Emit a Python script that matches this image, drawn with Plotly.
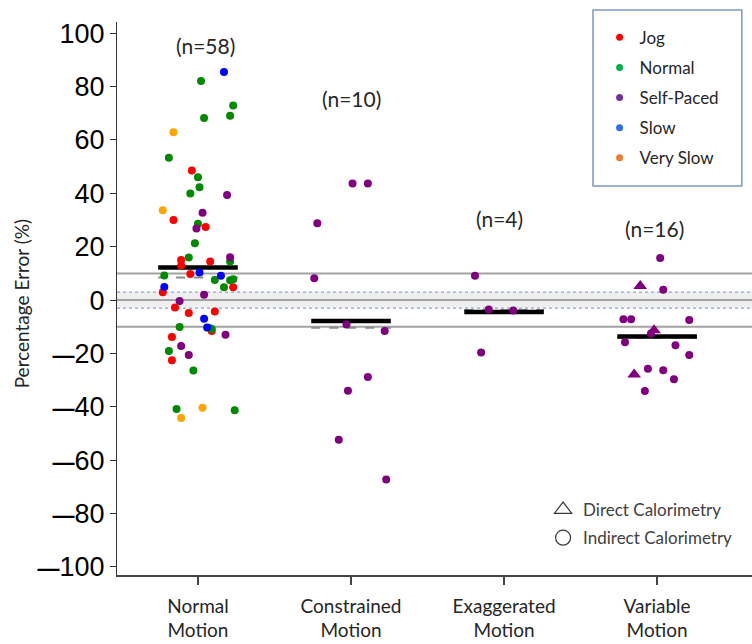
import numpy as np
import plotly.graph_objects as go

# Category labels on the x axis
group_labels = ["Normal<br>Motion", "Constrained<br>Motion", "Exaggerated<br>Motion", "Variable<br>Motion"]

# Normal Motion: percentage error, horizontal jitter, walking pace
normal_vals = [85.5, 82.1, 72.9, 69.1, 68.2, 62.9, 53.3, 48.6, 46.0, 42.3,
               39.9, 39.4, 33.7, 32.7, 30.0, 28.6, 26.8, 27.4, 21.3, 16.0,
               16.1, 14.5, 15.0, 13.0, 14.5, 9.2, 9.8, 10.3, 9.1, 7.5,
               7.4, 7.8, 4.8, 4.8, 4.9, 2.9, 2.0, -0.3, -2.8, -4.8,
               -4.3, -7.0, -10.1, -10.3, -10.8, -11.6, -13.0, -13.8, -17.2, -19.1,
               -20.6, -22.5, -26.4, -40.8, -40.3, -41.3, -44.2, -10.5]
normal_jitter = [0.17, 0.02, 0.23, 0.21, 0.04, -0.16, -0.19, -0.04, 0.0, 0.01,
                 -0.05, 0.19, -0.23, 0.03, -0.16, 0.0, -0.01, 0.05, -0.02, -0.06,
                 0.21, 0.21, -0.11, -0.11, 0.08, -0.22, -0.05, 0.01, 0.15, 0.11,
                 0.21, 0.23, 0.17, 0.23, -0.22, -0.23, 0.04, -0.12, -0.15, -0.06,
                 0.11, 0.04, -0.12, 0.06, 0.09, 0.09, 0.18, -0.17, -0.11, -0.19,
                 -0.06, -0.17, -0.03, -0.14, 0.03, 0.24, -0.11, 0.08]
normal_pace = ["Slow", "Normal", "Normal", "Normal", "Normal", "Very Slow", "Normal", "Jog", "Normal", "Normal",
               "Normal", "Self-Paced", "Very Slow", "Self-Paced", "Jog", "Normal", "Self-Paced", "Jog", "Normal", "Normal",
               "Self-Paced", "Normal", "Jog", "Jog", "Jog", "Normal", "Jog", "Slow", "Slow", "Normal",
               "Normal", "Normal", "Normal", "Jog", "Slow", "Jog", "Self-Paced", "Self-Paced", "Jog", "Jog",
               "Jog", "Slow", "Normal", "Slow", "Normal", "Jog", "Self-Paced", "Jog", "Self-Paced", "Normal",
               "Self-Paced", "Jog", "Normal", "Normal", "Very Slow", "Normal", "Very Slow", "Normal"]

# Constrained Motion (all self-paced, indirect calorimetry)
constrained_vals = [43.7, 43.7, 28.8, 8.2, -9.1, -11.6, -28.8, -34.0, -52.3, -67.2]
constrained_jitter = [0.01, 0.11, -0.22, -0.24, -0.03, 0.22, 0.11, -0.02, -0.08, 0.23]

# Exaggerated Motion (all self-paced, indirect calorimetry)
exaggerated_vals = [9.1, -3.5, -3.9, -19.6]
exaggerated_jitter = [-0.19, -0.10, 0.06, -0.15]

# Variable Motion (self-paced), calorimetry method per point
variable_vals = [15.8, 5.3, 3.9, -7.2, -7.2, -7.5, -11.3, -12.5, -15.8, -16.9,
                 -20.6, -27.9, -25.7, -26.3, -29.7, -34.1]
variable_jitter = [0.02, -0.11, 0.04, -0.22, -0.17, 0.21, -0.02, -0.04, -0.21, 0.12,
                   0.21, -0.15, -0.06, 0.04, 0.11, -0.08]
variable_method = ["Indirect", "Direct", "Indirect", "Indirect", "Indirect", "Indirect", "Direct", "Indirect",
                   "Indirect", "Indirect", "Indirect", "Direct", "Indirect", "Indirect", "Indirect", "Indirect"]

# Placement of the sample-size labels (data units)
n_label_pos = [(1.05, 95.5), (2.0, 75.5), (2.97, 30.5), (3.98, 27.0)]

pace_order = ["Jog", "Normal", "Self-Paced", "Slow", "Very Slow"]
pace_colors = {"Jog": "#ff0000", "Normal": "#008a00", "Self-Paced": "#800080",
               "Slow": "#0000ff", "Very Slow": "#ffa500"}
legend_colors = {"Jog": "#ff0000", "Normal": "#00b050", "Self-Paced": "#7030a0",
                 "Slow": "#2a6ff0", "Very Slow": "#ed7d31"}

# Assemble flat point table
groups = [
    (normal_vals, normal_jitter, normal_pace, ["Indirect"] * len(normal_vals)),
    (constrained_vals, constrained_jitter, ["Self-Paced"] * len(constrained_vals), ["Indirect"] * len(constrained_vals)),
    (exaggerated_vals, exaggerated_jitter, ["Self-Paced"] * len(exaggerated_vals), ["Indirect"] * len(exaggerated_vals)),
    (variable_vals, variable_jitter, ["Self-Paced"] * len(variable_vals), variable_method),
]

TEXT_FONT = "Lato"
fig = go.Figure()

# Reference band and lines
LINE_GRAY = "#a3a3a3"
fig.add_shape(type="rect", xref="paper", x0=0, x1=1, yref="y", y0=-3, y1=3,
              fillcolor="#efefef", line_width=0, layer="below")
for yv in (10, 0, -10):
    fig.add_shape(type="line", xref="paper", x0=0, x1=1, yref="y", y0=yv, y1=yv,
                  line=dict(color=LINE_GRAY, width=2), layer="below")
for yv in (3, -3):
    fig.add_shape(type="line", xref="paper", x0=0, x1=1, yref="y", y0=yv, y1=yv,
                  line=dict(color="#8fa3d3", width=1.2, dash="dot"), layer="below")

# Mean (solid black) and median (dashed gray) per group
HALF = 0.26
for gi, (vals, _, _, _) in enumerate(groups):
    cx = gi + 1
    med = float(np.median(vals))
    mean = float(np.mean(vals))
    fig.add_trace(go.Scatter(x=[cx - HALF, cx + HALF], y=[med, med], mode="lines",
                             line=dict(color="#8c8c8c", width=2, dash="dash"),
                             showlegend=False, hoverinfo="skip"))
    fig.add_trace(go.Scatter(x=[cx - HALF, cx + HALF], y=[mean, mean], mode="lines",
                             line=dict(color="#000000", width=4.5),
                             showlegend=False, hoverinfo="skip"))

# Data points, one trace per pace / method
for pace in pace_order:
    for method, symbol, size in (("Indirect", "circle", 8), ("Direct", "triangle-up", 12)):
        xs, ys = [], []
        for gi, (vals, jit, paces, methods) in enumerate(groups):
            for v, j, p, m in zip(vals, jit, paces, methods):
                if p == pace and m == method:
                    xs.append(gi + 1 + j)
                    ys.append(v)
        if xs:
            fig.add_trace(go.Scatter(x=xs, y=ys, mode="markers",
                                     marker=dict(color=pace_colors[pace], size=size, symbol=symbol,
                                                 line_width=0),
                                     showlegend=False))

# Pace legend entries
for pace in pace_order:
    fig.add_trace(go.Scatter(x=[None], y=[None], mode="markers", name=pace,
                             marker=dict(color=legend_colors[pace], size=7),
                             legend="legend", legendgroup=pace))

# Calorimetry legend entries
for name, symbol in (("Direct Calorimetry", "triangle-up-open"), ("Indirect Calorimetry", "circle-open")):
    fig.add_trace(go.Scatter(x=[None], y=[None], mode="markers", name=name,
                             marker=dict(color="#3a3a3a", size=15, symbol=symbol, line_width=1.2),
                             legend="legend2", legendgroup=name))

# Sample sizes
for gi, (vals, _, _, _) in enumerate(groups):
    px, py = n_label_pos[gi]
    fig.add_annotation(x=px, y=py, text=f"(n={len(vals)})", showarrow=False,
                       font=dict(family=TEXT_FONT, size=21, color="#262626"))

# Y axis title
fig.add_annotation(xref="paper", yref="paper", x=-0.172, y=0.49, text="Percentage Error (%)",
                   textangle=-90, showarrow=False, font=dict(family=TEXT_FONT, size=19, color="#262626"))

# Legend frame
fig.add_shape(type="rect", xref="paper", yref="paper", x0=0.7496, x1=0.984, y0=0.7034, y1=1.0217,
              line=dict(color="#7f97c5", width=1.5), fillcolor="rgba(0,0,0,0)")

# Tick labels with a long, heavy minus sign
tick_vals = list(range(-100, 101, 20))
MINUS = "<span style='font-size:22px'><b>\u2014</b></span>"
tick_text = [(MINUS + str(abs(t))) if t < 0 else str(t) for t in tick_vals]

fig.update_layout(
    width=752, height=644,
    margin=dict(l=117, r=0, t=22, b=69),
    plot_bgcolor="white", paper_bgcolor="white",
    xaxis=dict(range=[0.471, 4.62], tickvals=[1, 2, 3, 4], ticktext=group_labels,
               showline=True, linecolor="#444444", linewidth=1.5, ticks="outside", ticklen=8,
               tickcolor="#444444", tickwidth=1.5, showgrid=False, zeroline=False,
               ticklabelstandoff=5,
               tickfont=dict(family=TEXT_FONT, size=19, color="#262626")),
    yaxis=dict(range=[-103, 104.2], tickvals=tick_vals, ticktext=tick_text,
               showline=True, linecolor="#333333", linewidth=1, ticks="outside", ticklen=6,
               tickcolor="#333333", showgrid=False, zeroline=False,
               tickfont=dict(family="Liberation Sans Narrow, Arial Narrow, Liberation Sans",
                             size=27, color="#000000")),
    legend=dict(x=0.76, y=1.004, xanchor="left", yanchor="top", bgcolor="rgba(0,0,0,0)",
                borderwidth=0, tracegroupgap=5, font=dict(family=TEXT_FONT, size=17, color="#262626")),
    legend2=dict(x=0.671, y=0.15, xanchor="left", yanchor="top", bgcolor="rgba(0,0,0,0)",
                 borderwidth=0, tracegroupgap=3, font=dict(family=TEXT_FONT, size=17, color="#404040")),
    showlegend=True,
)

fig.write_html("out.html")
